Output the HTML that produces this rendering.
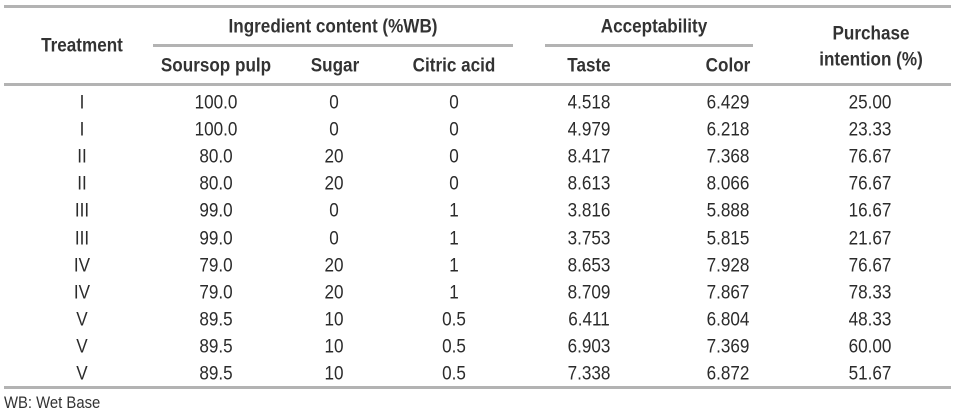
<!DOCTYPE html>
<html><head><meta charset="utf-8"><style>
body{margin:0;width:955px;height:416px;background:#fff;position:relative;overflow:hidden;font-family:"Liberation Sans",Arial,sans-serif;color:#2b2b2b}
.t{position:absolute;white-space:nowrap;transform:translate(-50%,-50%) scaleX(.9);font-size:19px;line-height:1}
.h{font-weight:bold;color:#333;font-size:19px}
.l{position:absolute;height:3px;background:#b3b3b3}
</style></head><body>
<div class="l" style="left:4px;top:5px;width:947px"></div>
<div class="l" style="left:153px;top:44px;width:360px"></div>
<div class="l" style="left:545px;top:44px;width:208px"></div>
<div class="l" style="left:4px;top:83px;width:947px"></div>
<div class="l" style="left:4px;top:386px;width:947px"></div>

<div class="t h" style="left:82px;top:46px">Treatment</div>
<div class="t h" style="left:333px;top:27px">Ingredient content (%WB)</div>
<div class="t h" style="left:654px;top:27px">Acceptability</div>
<div class="t h" style="left:871px;top:34px">Purchase</div>
<div class="t h" style="left:871px;top:60px">intention (%)</div>
<div class="t h" style="left:216px;top:66px">Soursop pulp</div>
<div class="t h" style="left:335px;top:66px">Sugar</div>
<div class="t h" style="left:454px;top:66px">Citric acid</div>
<div class="t h" style="left:589px;top:66px">Taste</div>
<div class="t h" style="left:728px;top:66px">Color</div>

<div id="rows"></div>
<div style="position:absolute;left:4px;top:394px;font-size:16.5px;transform:scaleX(.9);transform-origin:0 0;color:#333">WB: Wet Base</div>
<script>
var d=[["I","100.0","0","0","4.518","6.429","25.00"],["I","100.0","0","0","4.979","6.218","23.33"],["II","80.0","20","0","8.417","7.368","76.67"],["II","80.0","20","0","8.613","8.066","76.67"],["III","99.0","0","1","3.816","5.888","16.67"],["III","99.0","0","1","3.753","5.815","21.67"],["IV","79.0","20","1","8.653","7.928","76.67"],["IV","79.0","20","1","8.709","7.867","78.33"],["V","89.5","10","0.5","6.411","6.804","48.33"],["V","89.5","10","0.5","6.903","7.369","60.00"],["V","89.5","10","0.5","7.338","6.872","51.67"]];
var xs=[82,216,334,454,589,728,870],h="";
d.forEach(function(r,i){var y=103+i*27.1;r.forEach(function(v,j){h+='<div class="t" style="left:'+xs[j]+'px;top:'+y+'px">'+v+'</div>';});});
document.getElementById("rows").innerHTML=h;
</script>
</body></html>
